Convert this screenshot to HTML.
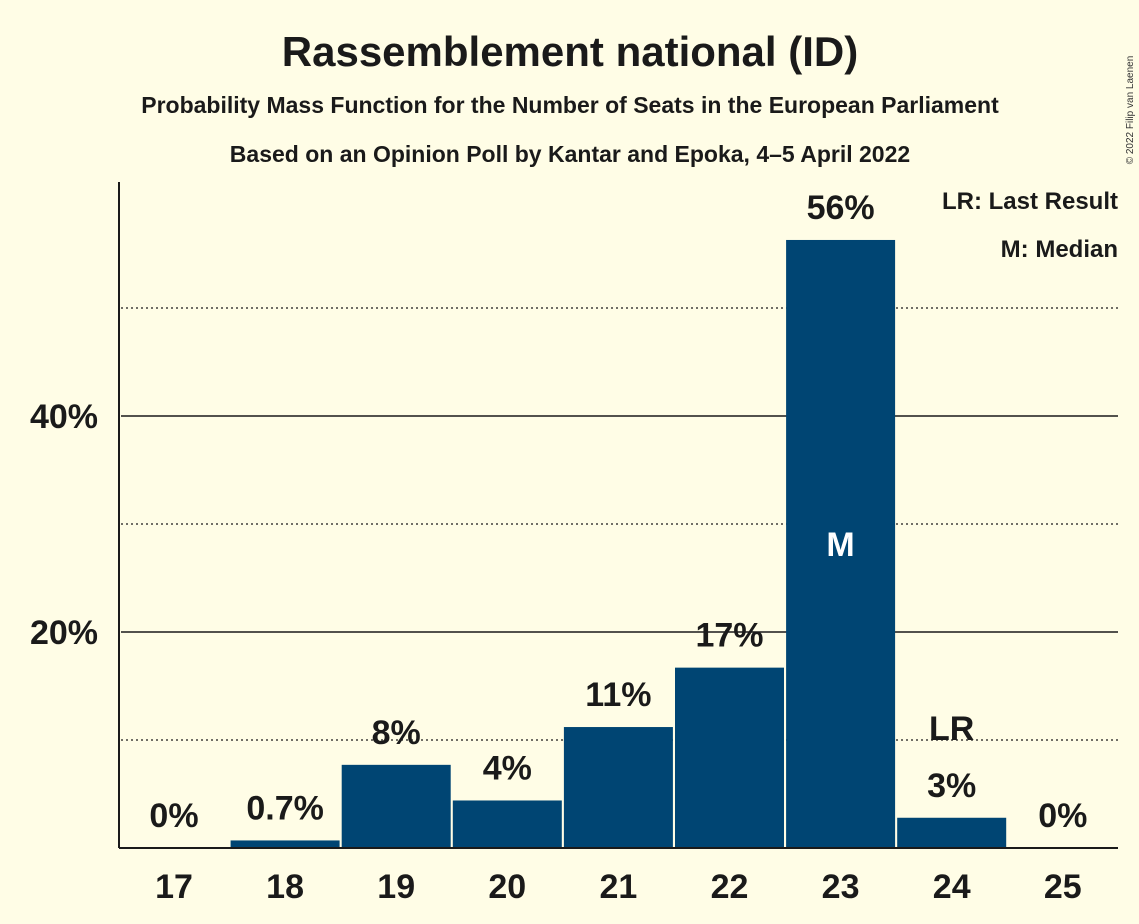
<!DOCTYPE html>
<html><head><meta charset="utf-8"><style>
body{margin:0;background:#fffde6;}
svg{display:block;font-family:"Liberation Sans",sans-serif;}
</style></head><body>
<svg id="chart" width="1139" height="924">
<rect width="1139" height="924" fill="#fffde6"/>
<text x="570" y="66" text-anchor="middle" font-size="42" font-weight="bold" fill="#1a1a1a">Rassemblement national (ID)</text>
<text x="570" y="113" text-anchor="middle" font-size="23" font-weight="bold" fill="#1a1a1a">Probability Mass Function for the Number of Seats in the European Parliament</text>
<text x="570" y="162" text-anchor="middle" font-size="23" font-weight="bold" fill="#1a1a1a">Based on an Opinion Poll by Kantar and Epoka, 4–5 April 2022</text>
<text x="1133" y="110" font-size="10" fill="#333" transform="rotate(-90 1133 110)" text-anchor="middle">© 2022 Filip van Laenen</text>
<text x="1118" y="209" text-anchor="end" font-size="24" font-weight="bold" fill="#1a1a1a">LR: Last Result</text>
<text x="1118" y="257" text-anchor="end" font-size="24" font-weight="bold" fill="#1a1a1a">M: Median</text>
<g id="grid"></g><g id="bars"></g><g id="labels"></g>
<line x1="119" y1="182" x2="119" y2="848" stroke="#1a1a1a" stroke-width="2"/>
<line x1="119" y1="848" x2="1118" y2="848" stroke="#1a1a1a" stroke-width="2"/>
</svg>
<script>
const categories=[17,18,19,20,21,22,23,24,25];
const values=[0,0.7,7.7,4.4,11.2,16.7,56.3,2.8,0];
const valueLabels=["0%","0.7%","8%","4%","11%","17%","56%","3%","0%"];
const gridValues=[10,20,30,40,50];
const tickLabels=["","20%","","40%",""];
const lastResult=24, median=23;
const ns="http://www.w3.org/2000/svg";
const y=v=>848-v*10.8, x=i=>174+i*111.1;
function mk(t,a,p){const e=document.createElementNS(ns,t);for(const k in a)e.setAttribute(k,a[k]);document.getElementById(p).appendChild(e);return e;}
gridValues.forEach((g,i)=>{
 const solid=tickLabels[i]!=="";
 const l=mk('line',{x1:121,x2:1118,y1:y(g),y2:y(g),stroke:'#1a1a1a','stroke-width':solid?1.5:1.2,'stroke-dasharray':solid?'':'2,3'},'grid');
 
 
 if(solid){const t=mk('text',{x:98,y:y(g)+12,'text-anchor':'end','font-size':34,'font-weight':'bold',fill:'#1a1a1a'},'grid');t.textContent=tickLabels[i];
 
 }
});
categories.forEach((c,i)=>{
 const v=values[i];
 if(v>0){const r=mk('rect',{x:x(i)-54.5,y:y(v),width:109,height:848-y(v),fill:'#004573'},'bars');
 
 }
 const t=mk('text',{x:x(i),y:y(v)-21,'text-anchor':'middle','font-size':34,'font-weight':'bold',fill:'#1a1a1a'},'labels');t.textContent=valueLabels[i];
 
 
 const xl=mk('text',{x:x(i),y:898,'text-anchor':'middle','font-size':34,'font-weight':'bold',fill:'#1a1a1a'},'labels');xl.textContent=c;
 
 
 if(c===lastResult){const lr=mk('text',{x:x(i),y:y(v)-78,'text-anchor':'middle','font-size':34,'font-weight':'bold',fill:'#1a1a1a'},'labels');lr.textContent='LR';
 
 }
 if(c===median){const m=mk('text',{x:x(i),y:(y(v)+848)/2+12,'text-anchor':'middle','font-size':34,'font-weight':'bold',fill:'#fff'},'labels');m.textContent='M';
 
 }
});
</script>
</body></html>
